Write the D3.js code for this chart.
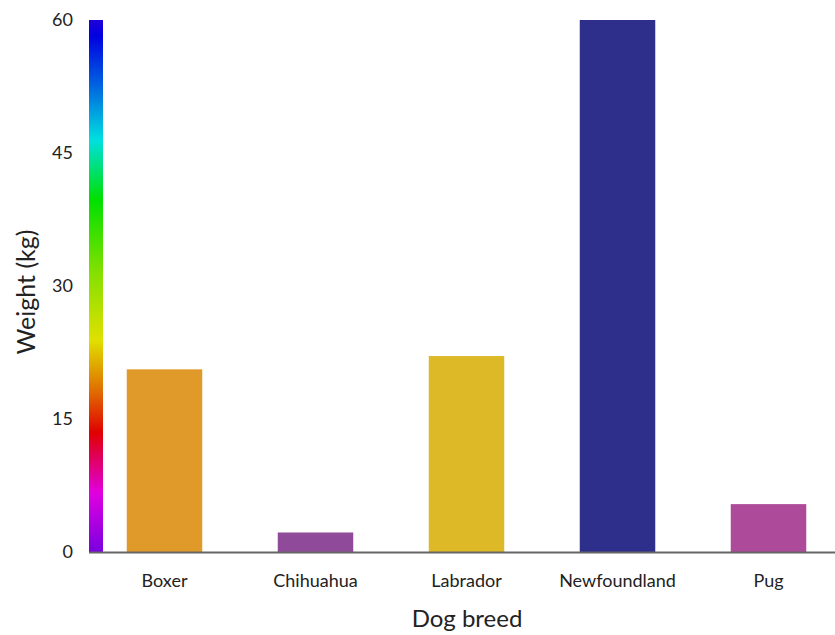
<!DOCTYPE html>
<html><head><meta charset="utf-8">
<script src="https://cdn.jsdelivr.net/npm/d3@7"></script>
<style>body{margin:0;background:#fff}svg{display:block}text{font-family:Lato,"Open Sans",sans-serif;fill:#222}</style>
</head><body>
<script>
const breeds = ["Boxer","Chihuahua","Labrador","Newfoundland","Pug"];
const weights = [20.6, 2.2, 22.1, 60, 5.4];
const barColors = ["#e09a2a","#904a9a","#ddb928","#2e2f8a","#ad4a9a"];
const yTicks = [0,15,30,45,60];
const gradientOffsets = [0,0.111,0.224,0.305,0.398,0.53,0.662,0.774,0.88,0.97,1];
const gradientColors = ["#7a00e0","#e000e0","#e00000","#e07000","#e0e000","#80e000","#00e000","#00e0e0","#0060e0","#0000e0","#2000d8"];
const yLabel = "Weight (kg)", xLabel = "Dog breed";

const W=835,H=635;
const svg=d3.select("body").append("svg").attr("width",W).attr("height",H);
const x=d3.scaleBand().domain(breeds).range([89,844]).paddingInner(0.5).paddingOuter(0.25);
const y=d3.scaleLinear().domain([0,60]).range([552,20]);

const defs=svg.append("defs");
const g=defs.append("linearGradient").attr("id","rb").attr("x1",0).attr("y1",1).attr("x2",0).attr("y2",0);
gradientOffsets.forEach((o,i)=>g.append("stop").attr("offset",o).attr("stop-color",gradientColors[i]));
svg.append("rect").attr("x",89).attr("width",14).attr("y",y(60)).attr("height",y(0)-y(60)).attr("fill","url(#rb)");

svg.selectAll(".bar").data(breeds).join("rect").attr("class","bar")
 .attr("x",d=>x(d)).attr("width",x.bandwidth())
 .attr("y",(d,i)=>y(weights[i])).attr("height",(d,i)=>y(0)-y(weights[i]))
 .attr("fill",(d,i)=>barColors[i]);

svg.append("line").attr("x1",89).attr("x2",835).attr("y1",552.5).attr("y2",552.5).attr("stroke","#666").attr("stroke-width",2);

svg.selectAll(".yt").data(yTicks).join("text").attr("class","yt")
 .attr("x",73).attr("y",d=>y(d)).attr("dy","0.35em").attr("text-anchor","end").attr("font-size",18).text(d=>d);
svg.selectAll(".xt").data(breeds).join("text").attr("class","xt")
 .attr("x",d=>x(d)+x.bandwidth()/2).attr("y",581).attr("dy","0.35em").attr("text-anchor","middle").attr("font-size",18).text(d=>d);
svg.append("text").attr("transform","translate(26,292) rotate(-90)").attr("text-anchor","middle").attr("dy","0.35em").attr("font-size",25).text(yLabel);
svg.append("text").attr("x",467).attr("y",619).attr("text-anchor","middle").attr("dy","0.35em").attr("font-size",24).text(xLabel);
</script>
</body></html>
